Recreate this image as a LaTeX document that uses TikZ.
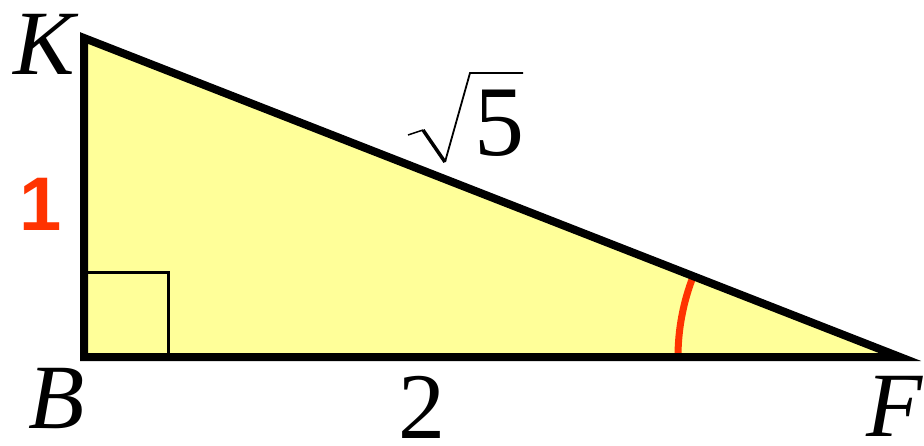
\documentclass[tikz,border=0pt]{standalone}
\usepackage{fontspec}
\setmainfont{Liberation Serif}
\newfontfamily\labsans{Liberation Sans}
\definecolor{triyellow}{HTML}{FFFF99}
\definecolor{markred}{HTML}{FF3300}
\begin{document}
\begin{tikzpicture}[x=1pt,y=1pt,
  vlabel/.style={inner sep=0pt,font=\fontsize{92}{92}\selectfont\itshape},
  nlabel/.style={inner sep=0pt,font=\fontsize{94}{94}\selectfont},
  sidelab/.style={inner sep=0pt,text=markred,font=\fontsize{76}{76}\selectfont\labsans\bfseries}]
\useasboundingbox (0,0) rectangle (924,445);
\coordinate (K) at (84,407);
\coordinate (B) at (84,88);
\coordinate (F) at (900,88);
\fill[triyellow] (K) -- (B) -- (F) -- cycle;
\draw[line width=3pt] (B) ++(0,84) -| ++(84,-84);
\draw[markred,line width=7pt] (F) ++(180:222) arc[start angle=180,end angle=158.6,radius=222];
\draw[line width=8pt,line join=miter] (K) -- (B) -- (F) -- cycle;
\node[vlabel] (lk) at (44,401) {K};
\node[vlabel] (lb) at (57,46) {B};
\node[vlabel] (lf) at (895,39) {F};
\node[nlabel] (l2) at (422,38) {2};
\node[sidelab] (l1) at (41,241) {1};
\node[inner sep=0pt,font=\fontsize{100}{100}\selectfont] (l5) at (499,322) {5};
\coordinate (r1) at (408,310);
\coordinate (r2) at (423,315);
\coordinate (r3) at (445,283);
\coordinate (r4) at (470,372);
\coordinate (r5) at (523,372);
\draw[line width=1.5pt,line join=miter] (r1) -- (r2);
\draw[line width=3.5pt] (r2) -- (r3);
\draw[line width=1.8pt] (r3) -- (r4) -- (r5);
\end{tikzpicture}
\end{document}
